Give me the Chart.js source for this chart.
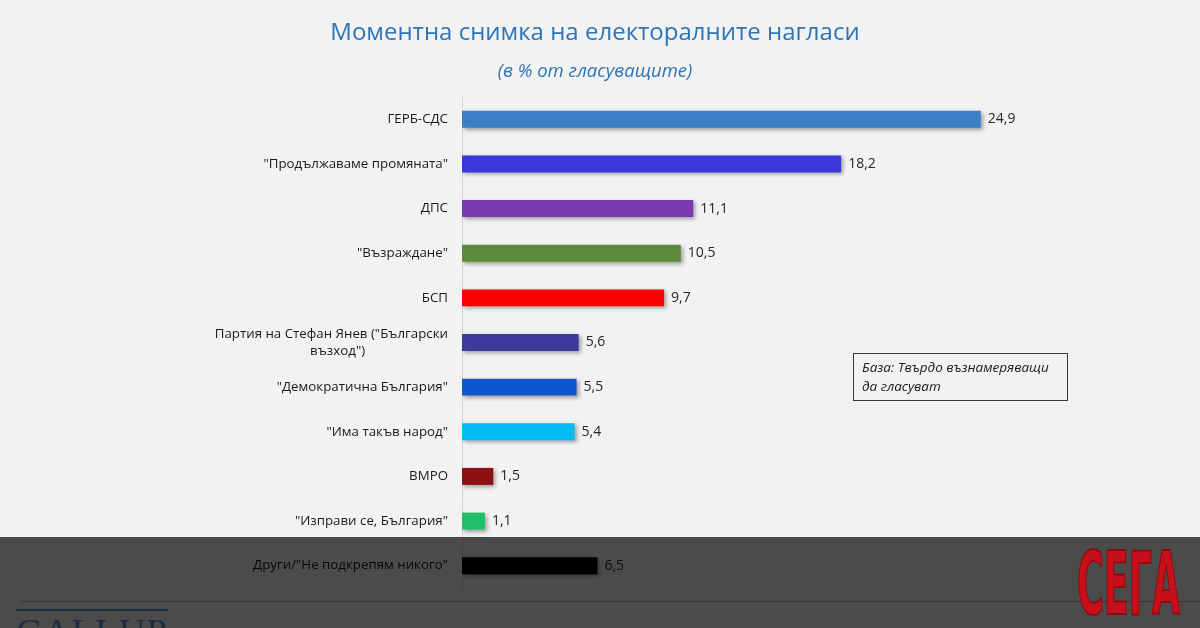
<!DOCTYPE html>
<html lang="bg">
<head>
<meta charset="utf-8">
<script src="https://cdn.jsdelivr.net/npm/chart.js@4.4.1/dist/chart.umd.min.js"></script>
<style>
  html, body { margin: 0; padding: 0; }
  body { width: 1200px; height: 628px; background: #f2f2f2; position: relative; overflow: hidden; font-family: "Open Sans", sans-serif; }
  #chartWrap { position: absolute; left: 0; top: 0; width: 1200px; height: 628px; }
  .title { position: absolute; left: 0; width: 1190px; top: 14px; text-align: center; color: #2e75b6; font-size: 24px; }
  .subtitle { position: absolute; left: 0; width: 1190px; top: 57px; text-align: center; color: #2e75b6; font-size: 18.5px; font-style: italic; }
  .note { position: absolute; left: 853px; top: 353px; width: 205px; height: 38px; border: 1px solid #3a3a3a; padding: 4px 0 4px 8px; font-size: 13.5px; font-style: italic; line-height: 19px; color: #1a1a1a; }
  .band { position: absolute; left: 0; top: 537px; width: 1200px; height: 91px; background: rgba(0,0,0,0.69); }
  .rule { position: absolute; left: 20px; top: 601px; width: 1180px; height: 1px; background: #393939; }
  .gallup { position: absolute; left: 16px; top: 609px; color: #1c2c42; font-family: "Liberation Serif", serif; font-size: 37px; letter-spacing: 1px; line-height: 1; border-top: 2px solid #1c2c42; padding-top: 3px; }
  .sega { position: absolute; left: 1071px; top: 541px; width: 102px; text-align: center; color: #c8101a; font-family: "Liberation Sans Narrow", "DejaVu Sans Condensed", sans-serif; font-weight: bold; font-size: 46px; line-height: 46px; transform: scale(0.88, 1.88); transform-origin: 50% 0; -webkit-text-stroke: 1px #8e0a10; }
</style>
</head>
<body>
<div id="chartWrap"><canvas id="pollChart" width="1200" height="628"></canvas></div>
<div class="title">Моментна снимка на електоралните нагласи</div>
<div class="subtitle">(в % от гласуващите)</div>
<div class="note">База: Твърдо възнамеряващи<br>да гласуват</div>
<div class="band"></div>
<div class="rule"></div>
<div class="gallup">GALLUP</div>
<div class="sega">СЕГА</div>

<script>
/* ---------- данни ---------- */
const partii = [
    "ГЕРБ-СДС",
    "\"Продължаваме промяната\"",
    "ДПС",
    "\"Възраждане\"",
    "БСП",
    ["Партия на Стефан Янев (\"Български", "възход\")" + "\u00a0".repeat(24)],
    "\"Демократична България\"",
    "\"Има такъв народ\"",
    "ВМРО",
    "\"Изправи се, България\"",
    "Други/\"Не подкрепям никого\""
];
const procenti = [24.9, 18.2, 11.1, 10.5, 9.7, 5.6, 5.5, 5.4, 1.5, 1.1, 6.5];
const cvetove = [
    "#3b80c6", "#3b38d9", "#7b3aaf", "#5f8b3d", "#ff0000",
    "#3c3a9c", "#0c56d0", "#00bbf2", "#8c1010", "#20c06a", "#000000"
];

/* ---------- сянка + стойности ---------- */
const etiketi = {
    id: "etiketi",
    beforeDatasetsDraw(chart) {
        const ctx = chart.ctx;
        ctx.save();
        ctx.shadowColor = "rgba(0,0,0,0.35)";
        ctx.shadowBlur = 4;
        ctx.shadowOffsetX = 2;
        ctx.shadowOffsetY = 2;
    },
    afterDatasetsDraw(chart) {
        const ctx = chart.ctx;
        ctx.restore();
        ctx.save();
        ctx.font = "14px 'Open Sans'";
        ctx.fillStyle = "#262626";
        ctx.textAlign = "left";
        ctx.textBaseline = "middle";
        chart.getDatasetMeta(0).data.forEach((bar, i) => {
            const txt = procenti[i].toFixed(1).replace(".", ",");
            ctx.fillText(txt, bar.x + 7, bar.y);
        });
        ctx.restore();
    }
};

new Chart(document.getElementById("pollChart"), {
    type: "bar",
    data: {
        labels: partii,
        datasets: [{
            data: procenti,
            backgroundColor: cvetove,
            borderWidth: 0,
            categoryPercentage: 1,
            barPercentage: 0.38
        }]
    },
    options: {
        indexAxis: "y",
        responsive: false,
        animation: false,
        layout: { padding: { top: 97, bottom: 40, right: 113, left: 0 } },
        plugins: { legend: { display: false }, tooltip: { enabled: false } },
        scales: {
            x: { display: false, min: 0, max: 30 },
            y: {
                afterFit(scale) { scale.width = 462; },
                grid: { display: false, drawTicks: false },
                border: { display: true, color: "#d4d4d4", width: 1 },
                ticks: {
                    padding: 14,
                    color: "#1a1a1a",
                    font: { family: "Open Sans", size: 13.3, lineHeight: 1.25 }
                }
            }
        }
    },
    plugins: [etiketi]
});
</script>
</body>
</html>
